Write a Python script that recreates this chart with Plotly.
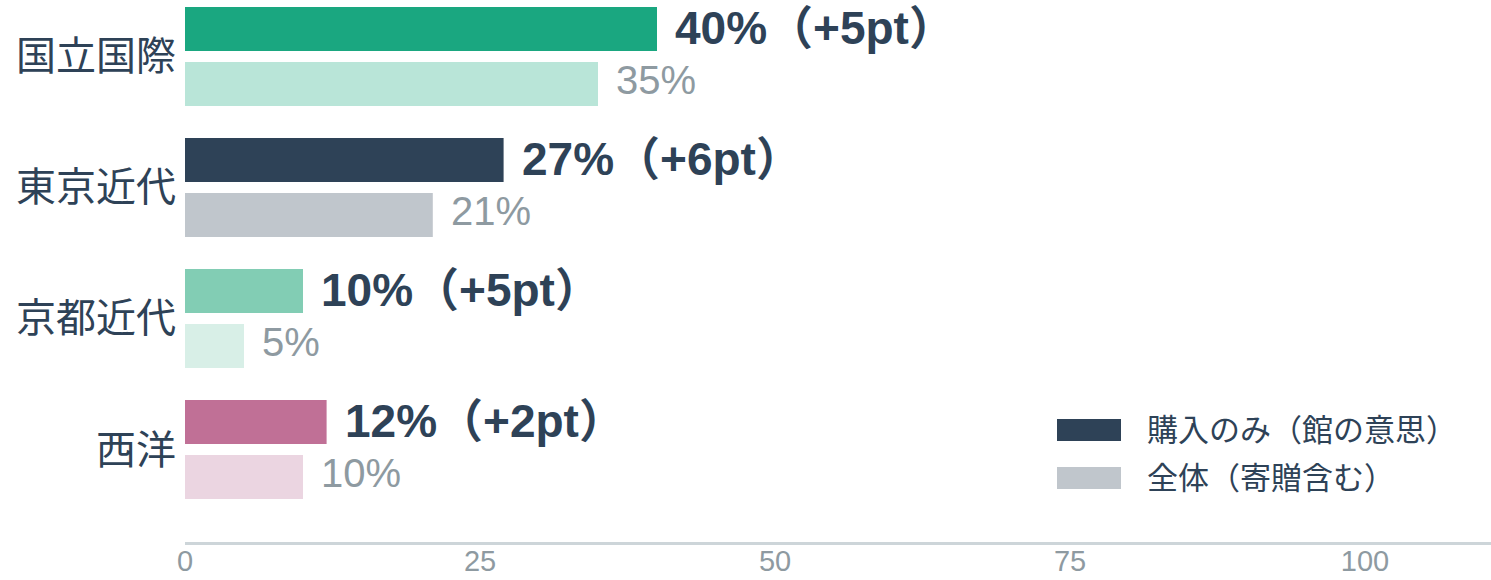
import plotly.graph_objects as go

categories = ["国立国際", "東京近代", "京都近代", "西洋"]
purchase_only = [40, 27, 10, 12]
overall = [35, 21, 5, 10]
diff_pt = [5, 6, 5, 2]
purchase_colors = ["#1aa780", "#2e4257", "#82cdb4", "#c07096"]
overall_colors = ["#b9e5d8", "#c0c6cc", "#d8efe7", "#ebd5e1"]
legend_names = ["購入のみ（館の意思）", "全体（寄贈含む）"]
legend_colors = ["#2e4257", "#c0c6cc"]
x_ticks = [0, 25, 50, 75, 100]

DARK = "#2e4257"
GREY = "#8e9aa1"
FONT = "Liberation Sans, Noto Sans CJK JP, sans-serif"

W, H = 1491, 580
ML, MR, MT, MB = 185, 0, 0, 38
PW, PH = W - ML - MR, H - MT - MB

ypos = list(range(len(categories)))

fig = go.Figure()
fig.add_trace(go.Bar(
    y=ypos, x=purchase_only, orientation="h",
    marker=dict(color=purchase_colors, line=dict(width=0)),
    width=0.336, offset=-0.378, showlegend=False, hoverinfo="skip",
))
fig.add_trace(go.Bar(
    y=ypos, x=overall, orientation="h",
    marker=dict(color=overall_colors, line=dict(width=0)),
    width=0.336, offset=0.042, showlegend=False, hoverinfo="skip",
))

annotations = []
for i, (p, o, d) in enumerate(zip(purchase_only, overall, diff_pt)):
    annotations.append(dict(
        x=p, y=i - 0.21, xref="x", yref="y", xanchor="left", yanchor="middle",
        xshift=16, yshift=1, text=f"<b>{p}%（+{d}pt）</b>", showarrow=False,
        font=dict(family=FONT, size=46, color=DARK),
    ))
    annotations.append(dict(
        x=o, y=i + 0.21, xref="x", yref="y", xanchor="left", yanchor="middle",
        xshift=16, yshift=4, text=f"{o}%", showarrow=False,
        font=dict(family=FONT, size=40, color=GREY),
    ))

def px_x(px):
    return (px - ML) / PW

def px_y(py):
    return (H - MB - py) / PH

shapes = []
legend_rows = [(419, 441), (467, 489)]
for (y0, y1), name, col in zip(legend_rows, legend_names, legend_colors):
    shapes.append(dict(
        type="rect", xref="paper", yref="paper",
        x0=px_x(1057), x1=px_x(1121), y0=px_y(y1), y1=px_y(y0),
        fillcolor=col, line=dict(width=0),
    ))
    annotations.append(dict(
        x=px_x(1145), y=px_y((y0 + y1) / 2), xref="paper", yref="paper",
        xanchor="left", yanchor="middle", text=name, showarrow=False,
        font=dict(family=FONT, size=31, color=DARK),
    ))

fig.update_layout(
    width=W, height=H,
    margin=dict(l=ML, r=MR, t=MT, b=MB, pad=0, autoexpand=False),
    plot_bgcolor="white", paper_bgcolor="white",
    barmode="overlay",
    showlegend=False,
    annotations=annotations,
    shapes=shapes,
    xaxis=dict(
        range=[0, PW / 11.8], tickvals=x_ticks, showgrid=False, zeroline=False,
        showline=True, linecolor="#cdd5d9", linewidth=2.5, ticks="",
        tickfont=dict(family=FONT, size=29, color=GREY),
        ticklabelstandoff=-9, automargin=False,
        fixedrange=True,
    ),
    yaxis=dict(
        range=[3.706, -0.431], tickvals=ypos, ticktext=categories,
        showgrid=False, zeroline=False, showline=False, ticks="",
        ticklabelstandoff=8, automargin=False,
        tickfont=dict(family=FONT, size=40, color=DARK),
        fixedrange=True,
    ),
)

fig.write_html(
    "out.html",
    config={"displayModeBar": False},
    post_script="document.body.style.margin='0';document.body.style.overflow='hidden';",
)
